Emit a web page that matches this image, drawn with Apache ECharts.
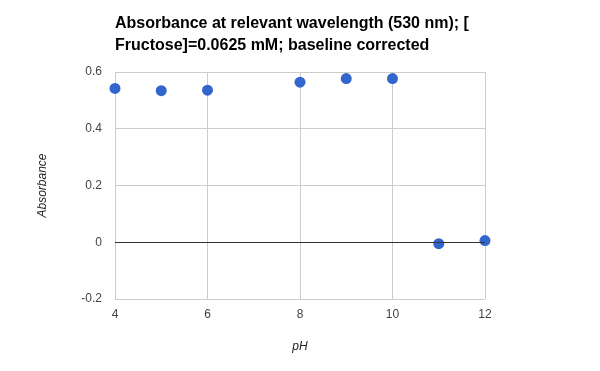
<!DOCTYPE html>
<html><head><meta charset="utf-8">
<script src="https://cdn.jsdelivr.net/npm/echarts@6/dist/echarts.min.js"></script>
<style>html,body{margin:0;padding:0;background:#fff}#c{width:600px;height:371px}</style>
</head><body><div id="c"></div>
<script>
var phValues = [4, 5, 6, 8, 9, 10, 11, 12];
var absorbance = [0.542, 0.534, 0.536, 0.564, 0.577, 0.577, -0.005, 0.006];
var titleText = "Absorbance at relevant wavelength (530 nm); [\nFructose]=0.0625 mM; baseline corrected";
var xTicks = [4, 6, 8, 10, 12];
var yTicks = [-0.2, 0, 0.2, 0.4, 0.6];

var chart = echarts.init(document.getElementById('c'), null, {renderer: 'canvas'});
chart.setOption({
  animation: false,
  backgroundColor: '#fff',
  title: {
    text: titleText,
    left: 110, top: 8,
    textStyle: {fontFamily: 'Arial, Liberation Sans', fontSize: 16, fontWeight: 'bold', color: '#000', lineHeight: 22}
  },
  grid: {left: 115, right: 115, top: 72, bottom: 72, containLabel: false},
  xAxis: {
    type: 'value', min: 4, max: 12, interval: 2,
    name: 'pH', nameLocation: 'middle', nameGap: 42,
    nameTextStyle: {fontFamily: 'Arial, Liberation Sans', fontStyle: 'italic', fontSize: 12, color: '#222'},
    axisLine: {show: false}, axisTick: {show: false},
    axisLabel: {fontFamily: 'Arial, Liberation Sans', fontSize: 12, color: '#444', margin: 10,
      formatter: function(v){ return xTicks.indexOf(v) >= 0 ? String(v) : ''; }},
    splitLine: {show: true, lineStyle: {color: '#cccccc', width: 1}}
  },
  yAxis: {
    type: 'value', min: -0.2, max: 0.6, interval: 0.2,
    name: 'Absorbance', nameLocation: 'middle', nameGap: 66, nameRotate: 90,
    nameTextStyle: {fontFamily: 'Arial, Liberation Sans', fontStyle: 'italic', fontSize: 12, color: '#222'},
    axisLine: {show: false}, axisTick: {show: false},
    axisLabel: {fontFamily: 'Arial, Liberation Sans', fontSize: 12, color: '#444', margin: 13,
      formatter: function(v){ var r = Math.round(v*10)/10; return r === 0 ? '0' : String(r); }},
    splitLine: {show: true, lineStyle: {color: '#cccccc', width: 1}}
  },
  series: [{
    type: 'scatter',
    data: phValues.map(function(x, i){ return [x, absorbance[i]]; }),
    symbolSize: 11,
    itemStyle: {color: '#3366cc', opacity: 1},
    markLine: {
      silent: true, symbol: 'none', label: {show: false},
      lineStyle: {color: '#333', width: 1, type: 'solid'},
      data: [{yAxis: 0}]
    },
    z: 3
  }]
});
</script></body></html>
